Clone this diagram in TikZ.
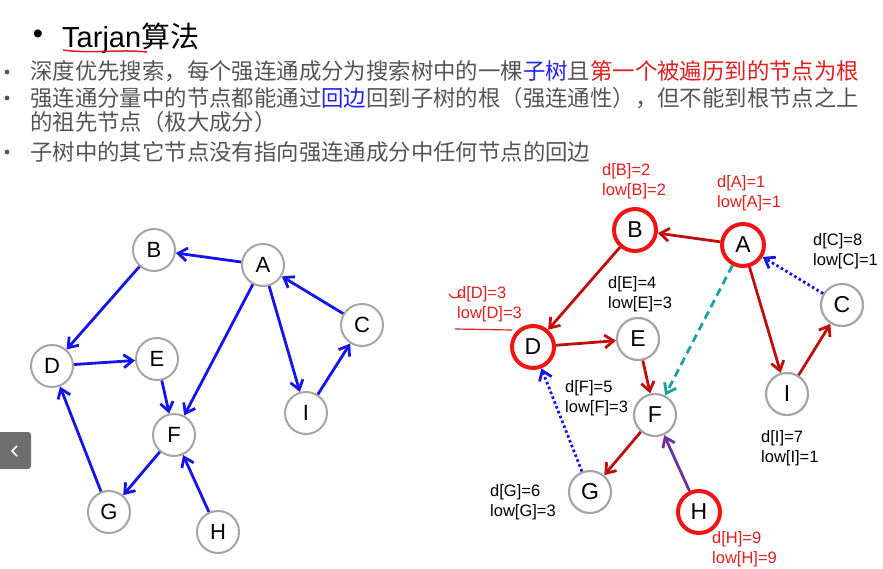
\documentclass[tikz,border=0pt]{standalone}
\usepackage{fontspec}
\setmainfont{Liberation Sans}
\newfontfamily\cjk{Noto Sans CJK SC}
\usetikzlibrary{arrows.meta}

\definecolor{graphblue}{RGB}{20,20,235}
\definecolor{treered}{RGB}{190,15,15}
\definecolor{ringred}{RGB}{240,20,20}
\definecolor{ringgray}{RGB}{165,165,165}
\definecolor{crosscyan}{RGB}{30,160,160}
\definecolor{fwdpurple}{RGB}{110,50,160}
\definecolor{textgray}{RGB}{85,85,85}
\definecolor{notered}{RGB}{225,30,30}
\definecolor{noteblue}{RGB}{35,35,240}
\definecolor{btngray}{RGB}{110,110,110}

\tikzset{
  vtx/.style={circle, draw=ringgray, line width=2pt, fill=white, minimum size=42pt,
    inner sep=0pt, font=\fontsize{22}{22}\selectfont},
  rvtx/.style={vtx, line width=2.2pt, font=\fontsize{23}{23}\selectfont},
  rootvtx/.style={rvtx, draw=ringred, line width=4pt},
  edge/.style={line width=2.8pt, -{Straight Barb[length=9pt,width=13pt]}},
  lab/.style={anchor=north west, align=left, inner sep=0pt, font=\fontsize{16.5}{20.5}\selectfont},
  bodyline/.style={anchor=base west, inner sep=0pt, text=textgray, font=\cjk\fontsize{22.4}{22}\selectfont},
}

\begin{document}
\begin{tikzpicture}[x=1pt, y=-1pt]
    \useasboundingbox (0,0) rectangle (883,568);
    % title and bullet lines
    \node[inner sep=0pt, font=\fontsize{29}{29}\selectfont] (ttlbullet) at (38,37) {\textbullet};
    \node[anchor=base west, inner sep=0pt, font=\fontsize{29}{29}\selectfont] (title) at (62,47) {Tarjan{\cjk 算法}};
    \draw[notered, line width=1.5pt] (63,50) .. controls (90,54) and (120,49) .. (147,52);
    \foreach \y in {72, 98, 152} {
        \fill[textgray] (7,\y) circle(2.4);
    }
    \node[bodyline] (line1) at (30,79.7)
        {深度优先搜索，每个强连通成分为搜索树中的一棵\textcolor{noteblue}{子树}且\textcolor{notered}{第一个被遍历到的节点为根}};
    \node[bodyline] (line2) at (30,106)
        {强连通分量中的节点都能通过\textcolor{noteblue}{回边}回到子树的根（强连通性），但不能到根节点之上};
    \node[bodyline] (line3) at (30,130.4) {的祖先节点（极大成分）};
    \node[bodyline] (line4) at (30,160.4)
        {子树中的其它节点没有指向强连通成分中任何节点的回边};

    % left graph
    \node[vtx] (lA) at (263,265) {A};
    \node[vtx] (lB) at (154,250) {B};
    \node[vtx] (lC) at (362,325) {C};
    \node[vtx] (lD) at (52,366) {D};
    \node[vtx] (lE) at (157,359) {E};
    \node[vtx] (lF) at (174,435) {F};
    \node[vtx] (lI) at (306,413) {I};
    \node[vtx] (lG) at (109,512) {G};
    \node[vtx] (lH) at (218,532) {H};
    \foreach \s/\t in {lA/lB, lB/lD, lD/lE, lE/lF, lA/lF, lA/lI, lI/lC, lC/lA, lF/lG, lG/lD, lH/lF} {
        \draw[edge, graphblue] (\s) -- (\t);
    }

    % slide button
    \fill[btngray, rounded corners=3pt] (-5,432) rectangle (31,469);
    \draw[white, line width=1.5pt] (17,446) -- (12,451) -- (17,456);

    % right graph
    \node[rootvtx] (rA) at (743,245) {A};
    \node[rootvtx] (rB) at (635,230) {B};
    \node[rvtx] (rC) at (842,305) {C};
    \node[rootvtx] (rD) at (533,347) {D};
    \node[rvtx] (rE) at (638,339) {E};
    \node[rvtx] (rF) at (655,415) {F};
    \node[rvtx] (rI) at (787,394) {I};
    \node[rvtx] (rG) at (590,492) {G};
    \node[rootvtx] (rH) at (699,512) {H};
    \foreach \s/\t in {rA/rB, rB/rD, rD/rE, rE/rF, rF/rG, rA/rI, rI/rC} {
        \draw[edge, treered] (\s) -- (\t);
    }
    \draw[edge, crosscyan, dash pattern=on 8pt off 5pt] (rA) -- (rF);
    \draw[edge, graphblue, dash pattern=on 2.6pt off 2.6pt] (rC) -- (rA);
    \draw[edge, graphblue, dash pattern=on 2.6pt off 2.6pt] (rG) -- (rD);
    \draw[edge, fwdpurple] (rH) -- (rF);

    % d[] and low[] values
    \node[lab, text=notered] (labB) at (602,163) {d[B]=2\\low[B]=2};
    \node[lab, text=notered] (labA) at (717,175) {d[A]=1\\low[A]=1};
    \node[lab] (labC) at (813,233) {d[C]=8\\low[C]=1};
    \node[lab] (labE) at (608,276) {d[E]=4\\low[E]=3};
    \node[lab, text=notered] (labD) at (457,286) {d[D]=3\\low[D]=3};
    \node[lab] (labF) at (565,380) {d[F]=5\\low[F]=3};
    \node[lab] (labI) at (761,430) {d[I]=7\\low[I]=1};
    \node[lab] (labG) at (490,484) {d[G]=6\\low[G]=3};
    \node[lab, text=notered] (labH) at (712,531) {d[H]=9\\low[H]=9};
    \draw[notered, line width=1.2pt] (449,294) .. controls (452,299) and (456,299) .. (461,295);
    \draw[notered, line width=1.2pt] (455,329) -- (512,330);
\end{tikzpicture}
\end{document}
